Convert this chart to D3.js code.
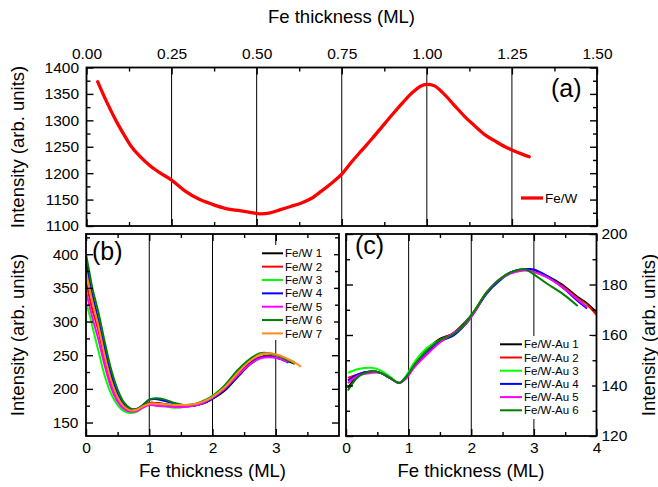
<!DOCTYPE html>
<html><head><meta charset="utf-8">
<script src="https://cdn.jsdelivr.net/npm/d3@7"></script>
<style>body{margin:0;background:#fff} svg{display:block} text{font-family:"Liberation Sans",Arial,sans-serif}</style>
</head><body><svg id="chart" width="658" height="487"></svg>
<script>
// ---------- DATA ----------
// Panel (a)
const aX = [0.033,0.06,0.087,0.11,0.13,0.155,0.185,0.215,0.25,0.29,0.33,0.37,0.41,0.45,0.48,0.51,0.54,0.57,0.6,0.63,0.66,0.69,0.72,0.75,0.78,0.81,0.84,0.87,0.9,0.93,0.96,0.98,1.0,1.02,1.05,1.08,1.11,1.14,1.17,1.2,1.23,1.25,1.28,1.301];
const aY = [1373,1334,1299,1273,1252,1233,1215,1201,1187,1166,1151,1141,1133,1129,1126,1123,1125,1131,1137,1143,1152,1166,1181,1198,1222,1244,1266,1289,1312,1334,1354,1364,1368,1366,1350,1329,1308,1290,1273,1261,1250,1244,1236,1231];
const aName = "Fe/W";
const aTicksX = [0,0.25,0.5,0.75,1.0,1.25,1.5];
const aTicksY = [1100,1150,1200,1250,1300,1350,1400];

// Panel (b)
const bNames = ["Fe/W 1","Fe/W 2","Fe/W 3","Fe/W 4","Fe/W 5","Fe/W 6","Fe/W 7"];
const bX = [0,0.05,0.1,0.2,0.3,0.4,0.5,0.6,0.7,0.8,0.9,1.0,1.1,1.25,1.4,1.55,1.7,1.85,2.0,2.2,2.4,2.6,2.75,2.9,3.05,3.2,3.3,3.4];
const b1 = [390,362,338,298,255,217,191,176,169,169,174,179,179,177,175,174,175,178,185,198,218,237,246,249,246,241,237];
const b2 = [360,338,318,285,243,208,186,173,167,168,174,179,179,177,175,175,176,180,187,201,221,239,247,249,246,241];
const b3 = [328,312,293,255,218,192,176,167,164,166,172,177,176,174,172,173,176,181,190,205,226,243,251,252,248,243,238];
const b4 = [385,360,338,300,258,220,193,177,170,170,176,184,185,182,178,175,175,179,186,200,220,238,246,248,245,239];
const b5 = [345,325,306,272,233,201,181,170,166,167,172,176,175,174,173,173,175,179,187,201,220,237,245,247,245,240];
const b6 = [400,375,350,312,268,228,199,180,171,170,176,184,186,184,179,176,177,182,189,206,228,245,253,253,249,242,240];
const b7 = [375,352,330,292,248,212,188,174,168,169,174,178,178,177,176,176,177,181,188,203,224,242,251,253,250,244,239,233];
const bTicksX = [0,1,2,3];
const bTicksY = [150,200,250,300,350,400];

// Panel (c)
const cNames = ["Fe/W-Au 1","Fe/W-Au 2","Fe/W-Au 3","Fe/W-Au 4","Fe/W-Au 5","Fe/W-Au 6"];
const cX = [0.03,0.2,0.4,0.55,0.7,0.85,0.95,1.1,1.3,1.5,1.7,1.9,2.05,2.25,2.45,2.65,2.85,3.0,3.2,3.45,3.7,3.85,4.0];
const c1 = [139,144,145.5,145,143,141,143,148.5,154.5,158.5,160.5,165,169.5,177,182,185,186,185.5,183.5,180,175,172.5,169];
const c2 = [143,144.5,145.5,145,143,141,143,148.5,154,158,160.5,164.5,169.5,177,182,185,186,185,183,179.5,174.5,172,168];
const c3 = [145,146.5,147,146,143.5,141,143.5,149.5,155,158,160,164.5,169.5,177,182,185,186,185,183,179,174,171.5];
const c4 = [142,144.5,145.5,145,143,141,143,148,153.5,157.5,159.5,164,169,176.5,181.5,185,186,186,183.5,179,173.5,170.5];
const c5 = [141,144,145,145,143,141,142.5,147.5,152.5,157,160.5,164,169,177,182,184.5,185.5,185,183,179,174,171];
const c6 = [138,143.5,145.5,145,143,141,143,148.5,154,158,160,164.5,169.5,177,182,185,186,184,180.5,176.5,171.5];
const cTicksX = [0,1,2,3,4];
const cTicksY = [120,140,160,180,200];

const bColors = ["#000000","#ff0000","#00ff00","#0000ff","#ff00ff","#008000","#ff8c1a"];
const cColors = ["#000000","#ff0000","#00ff00","#0000ff","#ff00ff","#008000"];

// ---------- DRAW ----------
const svg = d3.select("#chart");
const FS = 15.5, TITLE = 18.5;

function axis(g, orient, scale, pos, majors, minors, labels, fmt, pad) {
  const mk = {top:d3.axisTop,bottom:d3.axisBottom,left:d3.axisLeft,right:d3.axisRight}[orient];
  const tr = (orient==="top"||orient==="bottom") ? `translate(0,${pos})` : `translate(${pos},0)`;
  const gm = g.append("g").attr("transform", tr)
    .call(mk(scale).tickValues(majors).tickSizeInner(-7).tickSizeOuter(0).tickPadding(pad||6)
      .tickFormat(labels ? fmt : () => ""));
  gm.select(".domain").remove();
  gm.selectAll("line").attr("stroke","#000").attr("stroke-width",1.4);
  gm.selectAll("text").attr("fill","#000").style("font-size", FS+"px").style("font-family","'Liberation Sans',Arial,sans-serif");
  const gn = g.append("g").attr("transform", tr)
    .call(mk(scale).tickValues(minors).tickSizeInner(-4).tickSizeOuter(0).tickFormat(() => ""));
  gn.select(".domain").remove();
  gn.selectAll("line").attr("stroke","#000").attr("stroke-width",1.4);
}

function panel(id, x, y) {
  const [x0,x1] = x.range(), [y0,y1] = y.range();
  svg.append("clipPath").attr("id",id).append("rect")
    .attr("x",x0).attr("y",y1).attr("width",x1-x0).attr("height",y0-y1);
  return {x0,x1,top:y1,bot:y0};
}
function frame(p) {
  svg.append("rect").attr("x",p.x0).attr("y",p.top).attr("width",p.x1-p.x0).attr("height",p.bot-p.top)
    .attr("fill","none").attr("stroke","#000").attr("stroke-width",1.8);
}
function grid(p, x, vals) {
  svg.append("g").selectAll("line").data(vals).join("line")
    .attr("x1",d=>x(d)).attr("x2",d=>x(d)).attr("y1",p.top).attr("y2",p.bot)
    .attr("stroke","#000").attr("stroke-width",1);
}

// Panel (a)
const xa = d3.scaleLinear().domain([0,1.5]).range([86.5,597]);
const ya = d3.scaleLinear().domain([1100,1400]).range([226,67.5]);
const pa = panel("clipA", xa, ya);
grid(pa, xa, [0.25,0.5,0.75,1.0,1.25]);
const lineA = d3.line().x((d,i)=>xa(aX[i])).y(d=>ya(d)).curve(d3.curveMonotoneX);
svg.append("path").attr("clip-path","url(#clipA)").attr("d", lineA(aY))
  .attr("fill","none").attr("stroke","#ff0000").attr("stroke-width",3.3)
  .attr("stroke-linejoin","round").attr("stroke-linecap","round");
const aMinX = [0.125,0.375,0.625,0.875,1.125,1.375];
const aMinY = [1125,1175,1225,1275,1325,1375];
axis(svg,"top",xa,pa.top,aTicksX,aMinX,true,d3.format(".2f"),9);
axis(svg,"bottom",xa,pa.bot,aTicksX,aMinX,false);
axis(svg,"left",ya,pa.x0,aTicksY,aMinY,true,d3.format("d"),7.5);
axis(svg,"right",ya,pa.x1,aTicksY,aMinY,false);
frame(pa);
svg.append("text").attr("x",551).attr("y",97).style("font-size","25px").text("(a)");
svg.append("line").attr("x1",521).attr("x2",543).attr("y1",198).attr("y2",198).attr("stroke","#ff0000").attr("stroke-width",3.3);
svg.append("text").attr("x",545).attr("y",198).attr("dy","0.36em").style("font-size","13.5px").text(aName);

// Panel (b)
const xb = d3.scaleLinear().domain([0,4]).range([86,339]);
const yb = d3.scaleLinear().domain([130,430]).range([436,234]);
const pb = panel("clipB", xb, yb);
grid(pb, xb, [1,2,3]);
const bSeries = [b1,b2,b3,b4,b5,b6,b7];
const lineB = d3.line().x((d,i)=>xb(bX[i])).y(d=>yb(d)).curve(d3.curveCatmullRom);
bSeries.forEach((s,k)=>{
  svg.append("path").attr("clip-path","url(#clipB)").attr("d", lineB(s))
    .attr("fill","none").attr("stroke",bColors[k]).attr("stroke-width",2);
});
const bMinX = [0.5,1.5,2.5,3.5];
const bMinY = [175,225,275,325,375,425];
axis(svg,"bottom",xb,pb.bot,bTicksX,bMinX,true,d3.format("d"),6);
axis(svg,"top",xb,pb.top,bTicksX,bMinX,false);
axis(svg,"left",yb,pb.x0,bTicksY,bMinY,true,d3.format("d"),7.5);
axis(svg,"right",yb,pb.x1,bTicksY,bMinY,false);
// legend (b)
svg.append("rect").attr("x",258).attr("y",245).attr("width",76).attr("height",95).attr("fill","#fff");
bNames.forEach((n,k)=>{
  const yy = 253.3 + k*13.35;
  svg.append("line").attr("x1",262).attr("x2",283).attr("y1",yy).attr("y2",yy).attr("stroke",bColors[k]).attr("stroke-width",2);
  svg.append("text").attr("x",285).attr("y",yy).attr("dy","0.36em").style("font-size","11.5px").text(n);
});
frame(pb);
svg.append("text").attr("x",92).attr("y",259.5).style("font-size","25px").text("(b)");

// Panel (c)
const xc = d3.scaleLinear().domain([0,4]).range([346,596.5]);
const yc = d3.scaleLinear().domain([120,200]).range([436,234]);
const pc = panel("clipC", xc, yc);
grid(pc, xc, [1,2,3]);
const cSeries = [c1,c2,c3,c4,c5,c6];
const lineC = d3.line().x((d,i)=>xc(cX[i])).y(d=>yc(d)).curve(d3.curveCatmullRom);
cSeries.forEach((s,k)=>{
  svg.append("path").attr("clip-path","url(#clipC)").attr("d", lineC(s))
    .attr("fill","none").attr("stroke",cColors[k]).attr("stroke-width",2);
});
const cMinX = [0.5,1.5,2.5,3.5];
const cMinY = [130,150,170,190];
axis(svg,"bottom",xc,pc.bot,cTicksX,cMinX,true,d3.format("d"),6);
axis(svg,"top",xc,pc.top,cTicksX,cMinX,false);
axis(svg,"left",yc,pc.x0,cTicksY,cMinY,false);
axis(svg,"right",yc,pc.x1,cTicksY,cMinY,true,d3.format("d"),5);
svg.append("rect").attr("x",496).attr("y",336).attr("width",96).attr("height",83).attr("fill","#fff");
cNames.forEach((n,k)=>{
  const yy = 344.3 + k*13.2;
  svg.append("line").attr("x1",500).attr("x2",522).attr("y1",yy).attr("y2",yy).attr("stroke",cColors[k]).attr("stroke-width",2);
  svg.append("text").attr("x",524).attr("y",yy).attr("dy","0.36em").style("font-size","11.5px").text(n);
});
frame(pc);
svg.append("text").attr("x",355).attr("y",253.5).style("font-size","25px").text("(c)");

// Axis titles
svg.append("text").attr("x",341.5).attr("y",23).attr("text-anchor","middle").style("font-size",TITLE+"px").text("Fe thickness (ML)");
svg.append("text").attr("x",212.5).attr("y",477).attr("text-anchor","middle").style("font-size",TITLE+"px").text("Fe thickness (ML)");
svg.append("text").attr("x",471).attr("y",477).attr("text-anchor","middle").style("font-size",TITLE+"px").text("Fe thickness (ML)");
svg.append("text").attr("transform","translate(24,147) rotate(-90)").attr("text-anchor","middle").style("font-size",TITLE+"px").text("Intensity (arb. units)");
svg.append("text").attr("transform","translate(24,335) rotate(-90)").attr("text-anchor","middle").style("font-size",TITLE+"px").text("Intensity (arb. units)");
svg.append("text").attr("transform","translate(654.5,335) rotate(-90)").attr("text-anchor","middle").style("font-size",TITLE+"px").text("Intensity (arb. units)");
</script>
</body></html>
